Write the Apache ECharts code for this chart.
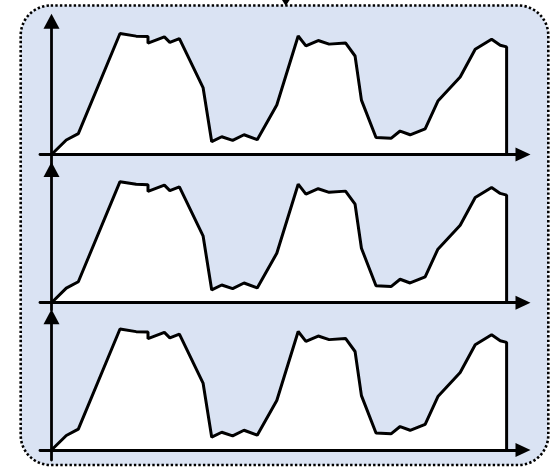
<!DOCTYPE html>
<html>
<head>
<meta charset="utf-8">
<script src="https://cdn.jsdelivr.net/npm/echarts@6/dist/echarts.min.js"></script>
<style>
html,body{margin:0;padding:0;background:#ffffff;}
#chart{width:558px;height:468px;}
</style>
</head>
<body>
<div id="chart"></div>
<script>
// Data (same series in all three panels)
var xValues = [0, 3.25, 5.89, 15.05, 18.6, 21.2, 21.2, 24.8, 26.0, 28.1, 33.3, 35.2, 37.4, 39.8, 42.3, 45.2, 49.5, 54.2, 55.9, 58.6, 61.0, 64.6, 66.7, 68.1, 71.3, 74.6, 76.6, 78.8, 82.1, 84.9, 89.8, 93.1, 96.7, 98.6, 100, 100];
var yValues = [0, 10.9, 15.7, 90.8, 88.8, 88.5, 83.5, 88.2, 84.1, 86.9, 50.2, 9.6, 13.3, 10.6, 14.8, 11.1, 37.1, 88.9, 81.5, 85.5, 82.8, 83.7, 73.9, 40.8, 12.7, 12.1, 17.6, 14.8, 19.3, 40.1, 58.1, 78.9, 86.4, 82.0, 80.7, 0];
var panelYMin = [-8, -5.5, -7.5];

function makePairs() { return xValues.map(function (x, i) { return [x, yValues[i]]; }); }

(function () {
  var pxPerUnit = 1.333;
  var axisPos = [154.5, 302.7, 450];
  var grids = [], xAxes = [], yAxes = [], series = [];
  for (var p = 0; p < 3; p++) {
    var gTop = axisPos[p] - 100 * pxPerUnit;
    var gH = (100 - panelYMin[p]) * pxPerUnit;
    grids.push({ left: 40, width: 483, top: gTop, height: gH });
    xAxes.push({
      type: 'value', gridIndex: p, min: -2.53, max: 103.6, z: 10,
      axisLine: { show: true, onZero: true, symbol: ['none', 'triangle'], symbolSize: [14, 15], lineStyle: { color: '#000', width: 2.8 } },
      axisTick: { show: false }, axisLabel: { show: false }, splitLine: { show: false }
    });
    yAxes.push({
      type: 'value', gridIndex: p, min: panelYMin[p], max: 100, z: 10, offset: -11.5,
      axisLine: { show: true, onZero: false, symbol: ['none', 'triangle'], symbolSize: [16, 15], lineStyle: { color: '#000', width: 2.8 } },
      axisTick: { show: false }, axisLabel: { show: false }, splitLine: { show: false }
    });
    series.push({
      type: 'line', xAxisIndex: p, yAxisIndex: p, data: makePairs(), symbol: 'none', silent: true,
      lineStyle: { color: '#000', width: 3 },
      areaStyle: { color: '#ffffff', opacity: 1 },
      z: 2
    });
  }

  var chart = echarts.init(document.getElementById('chart'), null, { renderer: 'canvas' });
  chart.setOption({
    animation: false,
    backgroundColor: '#ffffff',
    graphic: [
      { type: 'rect', z: -10, silent: true,
        shape: { x: 20.7, y: 5.5, width: 527.6, height: 459.5, r: 30 },
        style: { fill: '#dae3f3', stroke: '#000', lineWidth: 2.6, lineDash: [2.4, 2.2] } },
      { type: 'polygon', z: 100, silent: true,
        shape: { points: [[282, 0], [289.6, 0], [285.8, 6]] },
        style: { fill: '#000' } }
    ],
    grid: grids,
    xAxis: xAxes,
    yAxis: yAxes,
    series: series
  });
})();
</script>
</body>
</html>
